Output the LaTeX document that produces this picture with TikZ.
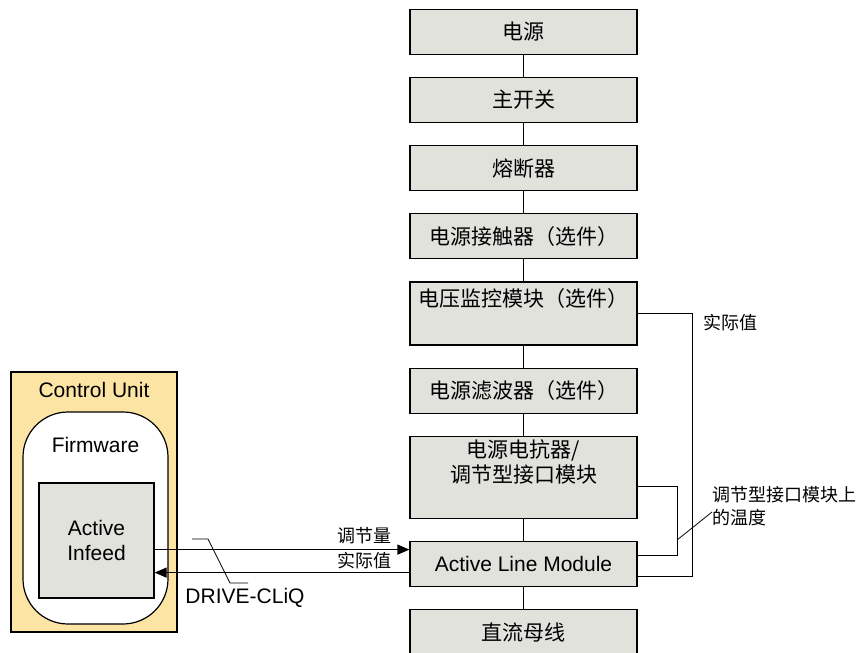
\documentclass[tikz,border=0pt]{standalone}
\usepackage{fontspec}
\setmainfont{Liberation Sans}
\newfontfamily\cjk{Noto Sans CJK SC}
\usetikzlibrary{positioning, arrows.meta}
\definecolor{boxgray}{RGB}{226,226,220}
\definecolor{cuyellow}{RGB}{252,229,164}

\begin{document}
\begin{tikzpicture}[x=1pt, y=-1pt, line width=1.2pt, >={Triangle[length=12pt,width=10pt]}]
		\tikzstyle{ann}=[draw=none,fill=none,inner sep=0pt,font={\fontsize{21}{25}\selectfont}]
		\tikzstyle{zh}=[draw=none,fill=none,inner sep=0pt,align=left,font={\cjk\fontsize{18}{23}\selectfont}]
		\tikzstyle{sig}=[->]
		\tikzstyle{callout}=[line width=0.8pt]
		\useasboundingbox (0,0) rectangle (862,653);
		\matrix (col) at (523.5,8) [anchor=north, inner sep=0pt, row sep=22pt, nodes={draw, fill=boxgray, inner sep=3pt, minimum width=227pt, minimum height=45pt, align=center, font={\cjk\fontsize{21}{25}\selectfont}}]
		{
			\node (supply) {电源};\\
			\node (mainsw) {主开关};\\
			\node (fuses) {熔断器};\\
			\node (contactor) {电源接触器（选件）};\\
			\node[minimum height=63pt] (vsm) {电压监控模块（选件）\\ \strut};\\
			\node (filter) {电源滤波器（选件）};\\
			\node[minimum height=82pt] (reactor) {电源电抗器/\\调节型接口模块\\ \strut};\\
			\node[font={\fontsize{21}{25}\selectfont}] (alm) {Active Line Module};\\
			\node (dcbus) {直流母线};\\
		};
		\foreach \a/\b in {supply/mainsw, mainsw/fuses, fuses/contactor, contactor/vsm, vsm/filter, filter/reactor, reactor/alm, alm/dcbus}
			\draw (\a) -- (\b);
		% feedback to the Active Line Module
		\draw (vsm.east) -- ++(55,0) |- ([yshift=-12pt]alm.east);
		\draw ([yshift=-9pt]reactor.east) -- ++(40,0) |- ([yshift=9pt]alm.east);
		\node[zh, anchor=west] (actlbl) at (703,323) {实际值};
		\node[zh, anchor=west] (templbl) at (712,506) {调节型接口模块上\\的温度};
		\coordinate (tempfoot) at (677,540);
		\draw[callout] (tempfoot) -- ([yshift=-6pt]templbl.west);
		% Control Unit
		\node[draw, fill=cuyellow, minimum width=166pt, minimum height=260pt] (cu) at (94,502) {};
		\node[ann, below=10pt of cu.north] (cutitle) {Control Unit};
		\node[draw, fill=white, rounded corners=45pt, minimum width=145pt, minimum height=212pt] (fw) at (95.5,518) {};
		\node[ann, below=25pt of fw.north] (fwtitle) {Firmware};
		\node[draw, fill=boxgray, minimum size=115pt, align=center, font={\fontsize{21}{25}\selectfont}] (infeed) at (96.5,540.5) {Active\\Infeed};
		% DRIVE-CLiQ
		\coordinate (setp) at ([yshift=14.5pt]alm.west);
		\coordinate (actv) at ([yshift=-8.5pt]alm.west);
		\draw[sig] (infeed.east |- setp) -- (setp);
		\draw[sig] (actv) -- (infeed.east |- actv);
		\node[zh, anchor=south east] (setlbl) at ([xshift=-17pt, yshift=5pt]setp) {调节量};
		\node[zh, anchor=south east] (actvlbl) at ([xshift=-17pt, yshift=3pt]actv) {实际值};
		\node[ann] (cliq) at (245,598) {DRIVE-CLiQ};
		\coordinate (cliqtip) at (192,539);
		\draw[callout] (cliqtip) -- ++(16,0) -- ++(22,44) -- ++(18,0);
\end{tikzpicture}
\end{document}
